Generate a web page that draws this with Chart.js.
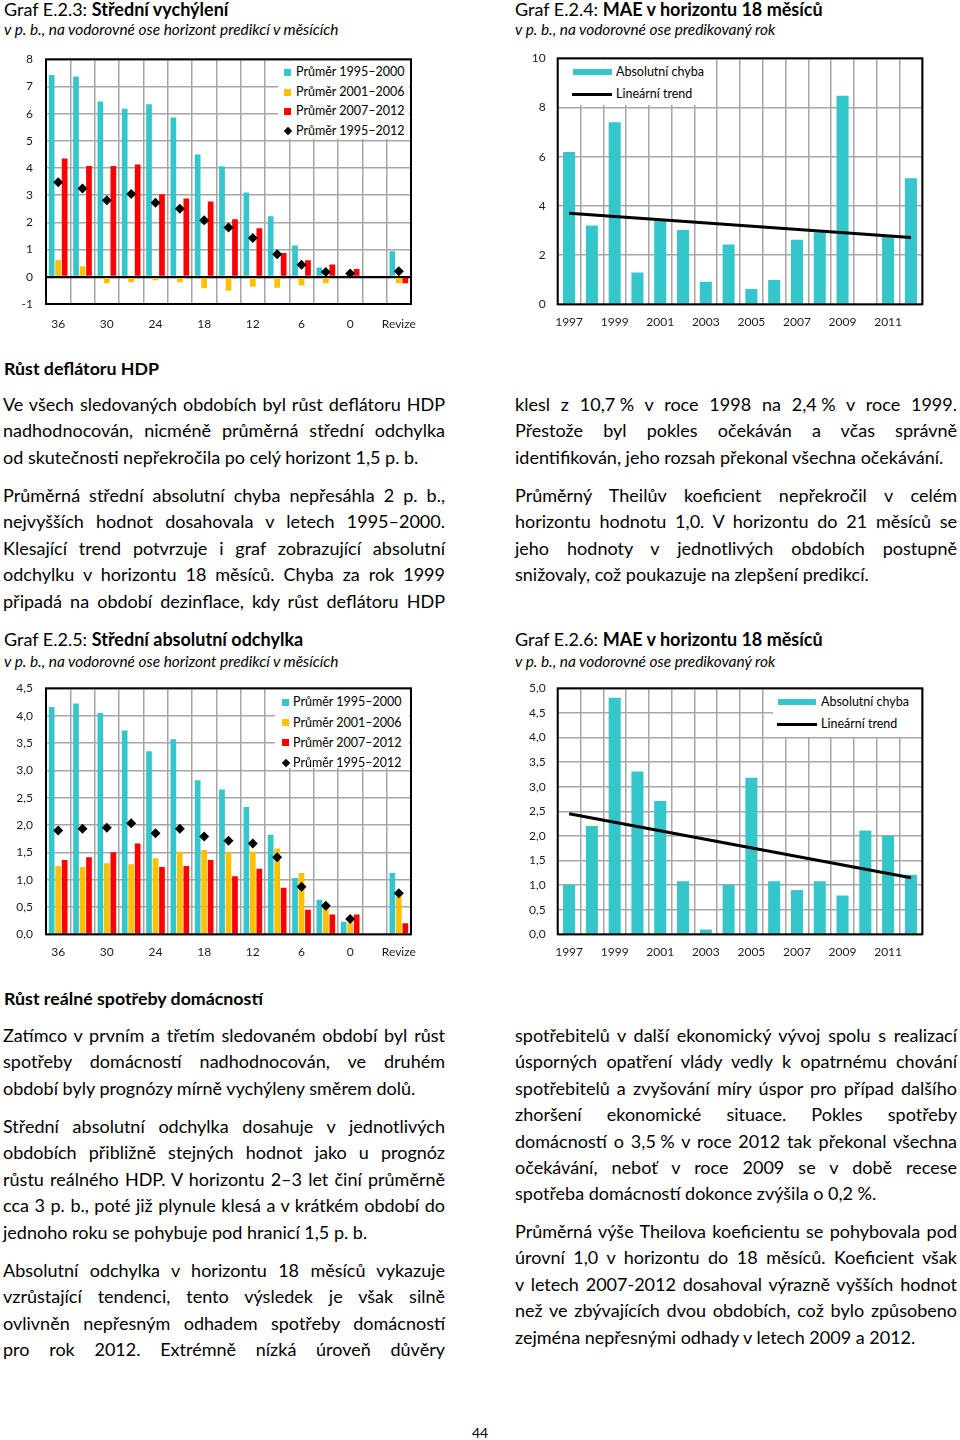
<!DOCTYPE html>
<html lang="cs">
<head>
<meta charset="utf-8">
<script src="https://cdn.jsdelivr.net/npm/chart.js@4.4.1/dist/chart.umd.min.js"></script>
<style>
  body { margin: 0; background: #fff; }
  #strana { position: relative; width: 960px; height: 1440px; font-family: "Lato", sans-serif; color: #000; overflow: hidden; }
  .abs { position: absolute; }
  .titul { font-size: 18px; line-height: 18px; white-space: nowrap; }
  .podtitul { font-size: 15.4px; line-height: 16px; font-style: italic; white-space: nowrap; }
  .nadpis { font-size: 17.8px; line-height: 26px; font-weight: bold; }
  .sloupec { width: 442px; font-size: 18px; line-height: 26.4px; }
  .sloupec span { display: block; text-align: justify; text-align-last: justify; }
  .sloupec span.k { text-align: left; text-align-last: left; }
  .graf { position: absolute; width: 450px; height: 300px; }
  .legenda { position: absolute; background: #fff; font-size: 12.5px; }
  .pol { position: absolute; white-space: nowrap; line-height: 14px; }
  .ctv { position: absolute; width: 7px; height: 7px; }
  .kos { position: absolute; width: 6px; height: 6px; background: #000; transform: rotate(45deg); }
</style>
</head>
<body>
<div id="strana">

  <div class="abs titul" style="left:4px; top:0px;">Graf E.2.3: <b>Střední vychýlení</b></div>
  <div class="abs podtitul" style="left:4px; top:21px;">v p. b., na vodorovné ose horizont predikcí v měsících</div>
  <div class="abs titul" style="left:515px; top:0px;">Graf E.2.4: <b>MAE v horizontu 18 měsíců</b></div>
  <div class="abs podtitul" style="left:515px; top:21px;">v p. b., na vodorovné ose predikovaný rok</div>

  <div class="graf" style="left:0px; top:45px;"><canvas id="graf1"></canvas></div>
  <div class="graf" style="left:510px; top:45px;"><canvas id="graf2"></canvas></div>

  <!-- legenda grafu E.2.3 -->
  <div class="legenda" style="left:278px; top:61px; width:131px; height:78px;">
    <div class="ctv" style="left:6px; top:8px; background:#35C6CC;"></div>
    <div class="pol" style="left:18px; top:4px;">Průměr 1995–2000</div>
    <div class="ctv" style="left:6px; top:28px; background:#FFC000;"></div>
    <div class="pol" style="left:18px; top:24px;">Průměr 2001–2006</div>
    <div class="ctv" style="left:6px; top:47px; background:#FF0000;"></div>
    <div class="pol" style="left:18px; top:43px;">Průměr 2007–2012</div>
    <div class="kos" style="left:6.5px; top:67px;"></div>
    <div class="pol" style="left:18px; top:63px;">Průměr 1995–2012</div>
  </div>

  <!-- legenda grafu E.2.4 -->
  <div class="legenda" style="left:559px; top:60px; width:149px; height:45px;">
    <div class="abs" style="left:14px; top:8.5px; width:39px; height:6px; background:#35C6CC;"></div>
    <div class="pol" style="left:57px; top:5px;">Absolutní chyba</div>
    <div class="abs" style="left:13px; top:33px; width:40px; height:3px; background:#000;"></div>
    <div class="pol" style="left:57px; top:27px;">Lineární trend</div>
  </div>

  <div class="abs nadpis" style="left:4px; top:355px;">Růst deflátoru HDP</div>

  <div class="abs sloupec" style="left:3px; top:391px;">
    <span>Ve všech sledovaných obdobích byl růst deflátoru HDP</span>
    <span>nadhodnocován, nicméně průměrná střední odchylka</span>
    <span class="k">od skutečnosti nepřekročila po celý horizont 1,5 p. b.</span>
  </div>
  <div class="abs sloupec" style="left:3px; top:482px;">
    <span>Průměrná střední absolutní chyba nepřesáhla 2 p. b.,</span>
    <span>nejvyšších hodnot dosahovala v letech 1995–2000.</span>
    <span>Klesající trend potvrzuje i graf zobrazující absolutní</span>
    <span>odchylku v horizontu 18 měsíců. Chyba za rok 1999</span>
    <span>připadá na období dezinflace, kdy růst deflátoru HDP</span>
  </div>

  <div class="abs sloupec" style="left:515px; top:391px;">
    <span>klesl z 10,7&#8239;% v roce 1998 na 2,4&#8239;% v roce 1999.</span>
    <span>Přestože byl pokles očekáván a včas správně</span>
    <span class="k">identifikován, jeho rozsah překonal všechna očekávání.</span>
  </div>
  <div class="abs sloupec" style="left:515px; top:482px;">
    <span>Průměrný Theilův koeficient nepřekročil v celém</span>
    <span>horizontu hodnotu 1,0. V horizontu do 21 měsíců se</span>
    <span>jeho hodnoty v jednotlivých obdobích postupně</span>
    <span class="k">snižovaly, což poukazuje na zlepšení predikcí.</span>
  </div>

  <div class="abs titul" style="left:4px; top:630px;">Graf E.2.5: <b>Střední absolutní odchylka</b></div>
  <div class="abs podtitul" style="left:4px; top:653px;">v p. b., na vodorovné ose horizont predikcí v měsících</div>
  <div class="abs titul" style="left:515px; top:630px;">Graf E.2.6: <b>MAE v horizontu 18 měsíců</b></div>
  <div class="abs podtitul" style="left:515px; top:653px;">v p. b., na vodorovné ose predikovaný rok</div>

  <div class="graf" style="left:0px; top:675px;"><canvas id="graf3"></canvas></div>
  <div class="graf" style="left:510px; top:675px;"><canvas id="graf4"></canvas></div>

  <!-- legenda grafu E.2.5 -->
  <div class="legenda" style="left:275px; top:690px; width:134px; height:78px;">
    <div class="ctv" style="left:7px; top:9px; background:#35C6CC;"></div>
    <div class="pol" style="left:18px; top:5px;">Průměr 1995–2000</div>
    <div class="ctv" style="left:7px; top:29px; background:#FFC000;"></div>
    <div class="pol" style="left:18px; top:26px;">Průměr 2001–2006</div>
    <div class="ctv" style="left:7px; top:49px; background:#FF0000;"></div>
    <div class="pol" style="left:18px; top:46px;">Průměr 2007–2012</div>
    <div class="kos" style="left:7.5px; top:70px;"></div>
    <div class="pol" style="left:18px; top:66px;">Průměr 1995–2012</div>
  </div>

  <!-- legenda grafu E.2.6 -->
  <div class="legenda" style="left:773px; top:690px; width:148px; height:47px;">
    <div class="abs" style="left:5px; top:8.5px; width:38px; height:6.5px; background:#35C6CC;"></div>
    <div class="pol" style="left:48px; top:5px;">Absolutní chyba</div>
    <div class="abs" style="left:4px; top:32.5px; width:40px; height:3px; background:#000;"></div>
    <div class="pol" style="left:48px; top:27px;">Lineární trend</div>
  </div>

  <div class="abs nadpis" style="left:4px; top:985px;">Růst reálné spotřeby domácností</div>

  <div class="abs sloupec" style="left:3px; top:1022px;">
    <span>Zatímco v prvním a třetím sledovaném období byl růst</span>
    <span>spotřeby domácností nadhodnocován, ve druhém</span>
    <span class="k">období byly prognózy mírně vychýleny směrem dolů.</span>
  </div>
  <div class="abs sloupec" style="left:3px; top:1113px;">
    <span>Střední absolutní odchylka dosahuje v jednotlivých</span>
    <span>obdobích přibližně stejných hodnot jako u prognóz</span>
    <span>růstu reálného HDP. V horizontu 2–3 let činí průměrně</span>
    <span>cca 3 p. b., poté již plynule klesá a v krátkém období do</span>
    <span class="k">jednoho roku se pohybuje pod hranicí 1,5 p. b.</span>
  </div>
  <div class="abs sloupec" style="left:3px; top:1257px;">
    <span>Absolutní odchylka v horizontu 18 měsíců vykazuje</span>
    <span>vzrůstající tendenci, tento výsledek je však silně</span>
    <span>ovlivněn nepřesným odhadem spotřeby domácností</span>
    <span>pro rok 2012. Extrémně nízká úroveň důvěry</span>
  </div>

  <div class="abs sloupec" style="left:515px; top:1022px;">
    <span>spotřebitelů v další ekonomický vývoj spolu s realizací</span>
    <span>úsporných opatření vlády vedly k opatrnému chování</span>
    <span>spotřebitelů a zvyšování míry úspor pro případ dalšího</span>
    <span>zhoršení ekonomické situace. Pokles spotřeby</span>
    <span>domácností o 3,5&#8239;% v roce 2012 tak překonal všechna</span>
    <span>očekávání, neboť v roce 2009 se v době recese</span>
    <span class="k">spotřeba domácností dokonce zvýšila o 0,2&#8239;%.</span>
  </div>
  <div class="abs sloupec" style="left:515px; top:1218px;">
    <span>Průměrná výše Theilova koeficientu se pohybovala pod</span>
    <span>úrovní 1,0 v horizontu do 18 měsíců. Koeficient však</span>
    <span>v letech 2007-2012 dosahoval výrazně vyšších hodnot</span>
    <span>než ve zbývajících dvou obdobích, což bylo způsobeno</span>
    <span class="k">zejména nepřesnými odhady v letech 2009 a 2012.</span>
  </div>

  <div class="abs" style="left:470px; top:1425px; width:20px; text-align:center; font-size:14px; line-height:16px;">44</div>
</div>

<script>
// horizonty predikci (mesice) a roky
const horizonty = ['36', '33', '30', '27', '24', '21', '18', '15', '12', '9', '6', '3', '0', '', 'Revize'];
const roky = ['1997', '1998', '1999', '2000', '2001', '2002', '2003', '2004', '2005', '2006', '2007', '2008', '2009', '2010', '2011', '2012'];

// Graf E.2.3 - stredni vychyleni (deflator HDP)
const vych9500 = [7.42, 7.37, 6.45, 6.18, 6.35, 5.86, 4.5, 4.07, 3.1, 2.23, 1.15, 0.34, 0.03, null, 0.94];
const vych0106 = [0.62, 0.39, -0.24, -0.2, -0.13, -0.2, -0.42, -0.51, -0.37, -0.4, -0.32, -0.24, -0.05, null, -0.24];
const vych0712 = [4.35, 4.08, 4.08, 4.13, 3.04, 2.88, 2.77, 2.12, 1.79, 0.88, 0.61, 0.45, 0.29, null, -0.24];
const vych9512 = [3.48, 3.25, 2.82, 3.05, 2.72, 2.5, 2.08, 1.81, 1.43, 0.83, 0.44, 0.18, 0.12, null, 0.2];

// Graf E.2.4 - MAE v horizontu 18 mesicu (deflator HDP)
const maeDefl = [6.19, 3.2, 7.4, 1.29, 3.45, 3.02, 0.92, 2.43, 0.62, 0.99, 2.62, 2.93, 8.48, 0, 2.75, 5.12];
const trendDefl = [3.7, null, null, null, null, null, null, null, null, null, null, null, null, null, null, 2.72];

// Graf E.2.5 - stredni absolutni odchylka (spotreba domacnosti)
const abs9500 = [4.16, 4.22, 4.05, 3.73, 3.35, 3.57, 2.82, 2.65, 2.33, 1.82, 1.03, 0.63, 0.23, null, 1.12];
const abs0106 = [1.25, 1.23, 1.3, 1.28, 1.39, 1.51, 1.54, 1.51, 1.51, 1.57, 1.12, 0.52, 0.2, null, 0.69];
const abs0712 = [1.36, 1.41, 1.5, 1.66, 1.23, 1.25, 1.36, 1.06, 1.2, 0.85, 0.45, 0.36, 0.36, null, 0.2];
const abs9512 = [1.9, 1.93, 1.95, 2.03, 1.85, 1.93, 1.79, 1.71, 1.66, 1.41, 0.87, 0.52, 0.28, null, 0.75];

// Graf E.2.6 - MAE v horizontu 18 mesicu (spotreba domacnosti)
const maeSpotr = [1.0, 2.2, 4.81, 3.31, 2.71, 1.08, 0.1, 1.0, 3.18, 1.08, 0.9, 1.08, 0.79, 2.11, 2.0, 1.21];
const trendSpotr = [2.45, null, null, null, null, null, null, null, null, null, null, null, null, null, null, 1.15];

const tyrkys = '#35C6CC';
const zluta = '#FFC000';
const cervena = '#FF0000';
const seda = '#A6A6A6';

Chart.defaults.font.family = 'Lato';
Chart.defaults.font.size = 12;
Chart.defaults.color = '#1a1a1a';

// cerny ramecek kolem plochy grafu
const ramecek = {
    id: 'ramecek',
    afterDraw(chart) {
        const { ctx, chartArea: a } = chart;
        ctx.save();
        ctx.strokeStyle = '#000';
        ctx.lineWidth = 2;
        ctx.strokeRect(a.left, a.top, a.right - a.left, a.bottom - a.top);
        ctx.restore();
    }
};

const carka = v => v.toFixed(1).replace('.', ',');

function moznosti(o) {
    return {
        responsive: true,
        maintainAspectRatio: false,
        animation: false,
        layout: { padding: { left: 0, right: o.pr, top: o.pt, bottom: 0 } },
        plugins: { legend: { display: false }, tooltip: { enabled: false } },
        scales: {
            x: {
                grid: { color: seda, lineWidth: 1.5, drawTicks: false, offset: true },
                border: { display: false },
                ticks: {
                    autoSkip: false, maxRotation: 0, padding: o.xp,
                    callback: (v, i) => i % 2 === 0 ? o.popisky[i] : ''
                },
                afterFit: s => { s.height = o.xh; }
            },
            y: {
                min: o.min, max: o.max,
                grid: {
                    drawTicks: false,
                    color: c => (o.nula && c.tick && c.tick.value === 0) ? '#000' : seda,
                    lineWidth: c => (o.nula && c.tick && c.tick.value === 0) ? 2.2 : 1.5
                },
                border: { display: false },
                ticks: { stepSize: o.krok, padding: o.yp, callback: o.fmt },
                // osa ma pevnou sirku a nepridava si odsazeni nahore ani dole
                afterFit: s => { s.width = o.yw; s.paddingTop = 0; s.paddingBottom = 0; }
            }
        }
    };
}

function sloupce(label, data, barva) {
    return { type: 'bar', label: label, data: data, backgroundColor: barva, order: 2,
             categoryPercentage: 0.8, barPercentage: 0.88 };
}

function kosocverce(label, data) {
    return { type: 'line', label: label, data: data, showLine: false, order: 1,
             pointStyle: 'rectRot', pointRadius: 5, backgroundColor: '#000', borderColor: '#000', borderWidth: 0 };
}

new Chart(document.getElementById('graf1'), {
    type: 'bar',
    data: {
        labels: horizonty,
        datasets: [
            kosocverce('Průměr 1995–2012', vych9512),
            sloupce('Průměr 1995–2000', vych9500, tyrkys),
            sloupce('Průměr 2001–2006', vych0106, zluta),
            sloupce('Průměr 2007–2012', vych0712, cervena)
        ]
    },
    options: moznosti({ popisky: horizonty, min: -1, max: 8, krok: 1, fmt: v => v, nula: true,
                        pt: 14.3, pr: 39, yw: 46, xh: 41, xp: 13, yp: 13 }),
    plugins: [ramecek]
});

new Chart(document.getElementById('graf2'), {
    type: 'bar',
    data: {
        labels: roky,
        datasets: [
            { type: 'line', label: 'Lineární trend', data: trendDefl, spanGaps: true, borderColor: '#000',
              borderWidth: 3, pointRadius: 0, order: 1 },
            { type: 'bar', label: 'Absolutní chyba', data: maeDefl, backgroundColor: tyrkys, order: 2,
              categoryPercentage: 1, barPercentage: 0.53 }
        ]
    },
    options: moznosti({ popisky: roky, min: 0, max: 10, krok: 2, fmt: v => v, nula: false,
                        pt: 13.3, pr: 37.7, yw: 47.7, xh: 40.7, xp: 11, yp: 12 }),
    plugins: [ramecek]
});

new Chart(document.getElementById('graf3'), {
    type: 'bar',
    data: {
        labels: horizonty,
        datasets: [
            kosocverce('Průměr 1995–2012', abs9512),
            sloupce('Průměr 1995–2000', abs9500, tyrkys),
            sloupce('Průměr 2001–2006', abs0106, zluta),
            sloupce('Průměr 2007–2012', abs0712, cervena)
        ]
    },
    options: moznosti({ popisky: horizonty, min: 0, max: 4.5, krok: 0.5, fmt: carka, nula: false,
                        pt: 13.3, pr: 39, yw: 46, xh: 40.7, xp: 11, yp: 13 }),
    plugins: [ramecek]
});

new Chart(document.getElementById('graf4'), {
    type: 'bar',
    data: {
        labels: roky,
        datasets: [
            { type: 'line', label: 'Lineární trend', data: trendSpotr, spanGaps: true, borderColor: '#000',
              borderWidth: 3, pointRadius: 0, order: 1 },
            { type: 'bar', label: 'Absolutní chyba', data: maeSpotr, backgroundColor: tyrkys, order: 2,
              categoryPercentage: 1, barPercentage: 0.53 }
        ]
    },
    options: moznosti({ popisky: roky, min: 0, max: 5, krok: 0.5, fmt: carka, nula: false,
                        pt: 13.3, pr: 37.7, yw: 47.7, xh: 40.7, xp: 11, yp: 12 }),
    plugins: [ramecek]
});
</script>
</body>
</html>
